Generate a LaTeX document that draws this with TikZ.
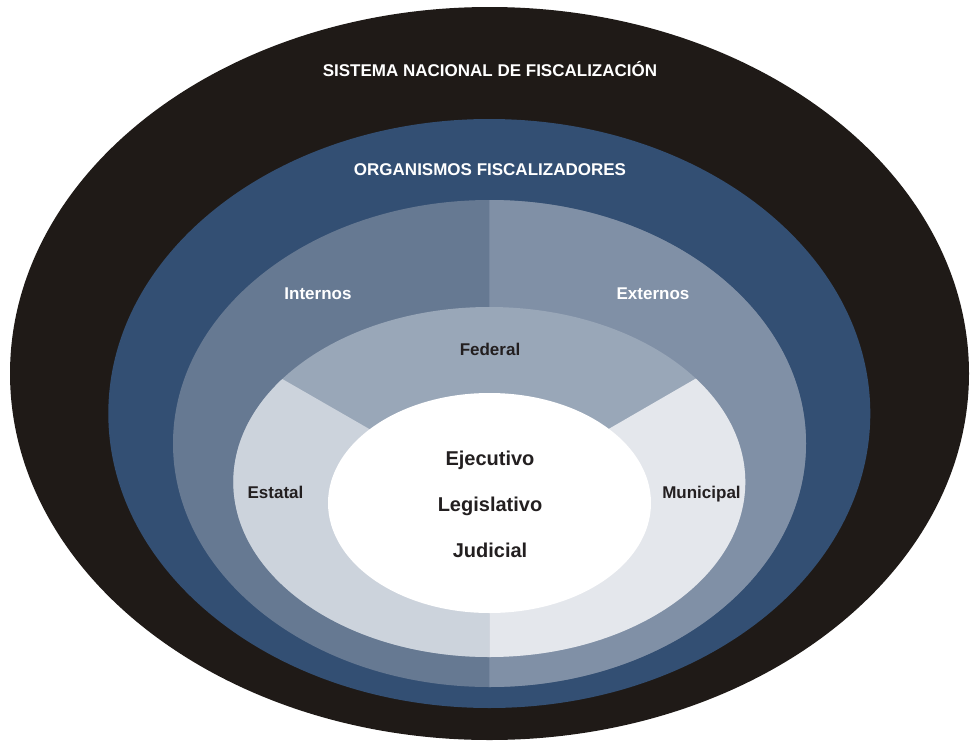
\documentclass[tikz,border=0pt]{standalone}
\usepackage{fontspec}
\setmainfont{Liberation Sans}
\definecolor{cBlack}{HTML}{1F1A17}
\definecolor{cBlue}{HTML}{334F73}
\definecolor{cInt}{HTML}{667992}
\definecolor{cExt}{HTML}{8090A6}
\definecolor{cFed}{HTML}{99A7B8}
\definecolor{cEst}{HTML}{CCD3DC}
\definecolor{cMun}{HTML}{E4E7EC}
\definecolor{cText}{HTML}{231F20}
\tikzset{
  lbl/.style={anchor=base, inner sep=0pt, font=\bfseries\fontsize{17}{20}\selectfont},
  lblw/.style={lbl, text=white},
  lbld/.style={lbl, text=cText},
  big/.style={anchor=base, inner sep=0pt, text=cText, font=\bfseries\fontsize{20}{24}\selectfont}
}
\begin{document}
\begin{tikzpicture}[x=1pt,y=-1pt]
\useasboundingbox (0,0) rectangle (970,742);
% outer
\fill[cBlack] (489.5,373.5) ellipse [x radius=479.5pt, y radius=366.5pt];
% blue
\fill[cBlue] (489.3,413.5) ellipse [x radius=381pt, y radius=294.5pt];
% internos / externos
\fill[cInt] (489.5,443.5) ellipse [x radius=316.5pt, y radius=243.5pt];
\begin{scope}
  \clip (489.3,0) rectangle (970,742);
  \fill[cExt] (489.5,443.5) ellipse [x radius=316.5pt, y radius=243.5pt];
\end{scope}
% federal / estatal / municipal
\fill[cFed] (489.3,482) ellipse [x radius=256pt, y radius=175pt];
\begin{scope}
  \clip (489.3,482) ellipse [x radius=256pt, y radius=175pt];
  \fill[cEst] (489.3,498) -- (-450,-42) -- (-450,800) -- (489.3,800) -- cycle;
  \fill[cMun] (489.3,498) -- (1423,-42) -- (1423,800) -- (489.3,800) -- cycle;
\end{scope}
% white core
\fill[white] (489.5,503) ellipse [x radius=161.5pt, y radius=110pt];
% labels
\node[lblw] (sis) at (490,76) {SISTEMA NACIONAL DE FISCALIZACIÓN};
\node[lblw] (org) at (490,175) {ORGANISMOS FISCALIZADORES};
\node[lblw] (int) at (318,299) {Internos};
\node[lblw] (ext) at (653,299) {Externos};
\node[lbld] (fed) at (490,355) {Federal};
\node[lbld] (est) at (275.5,498) {Estatal};
\node[lbld] (mun) at (701.5,498) {Municipal};
\node[big] (eje) at (490,465) {Ejecutivo};
\node[big] (leg) at (490,511) {Legislativo};
\node[big] (jud) at (490,557) {Judicial};
\end{tikzpicture}
\end{document}
